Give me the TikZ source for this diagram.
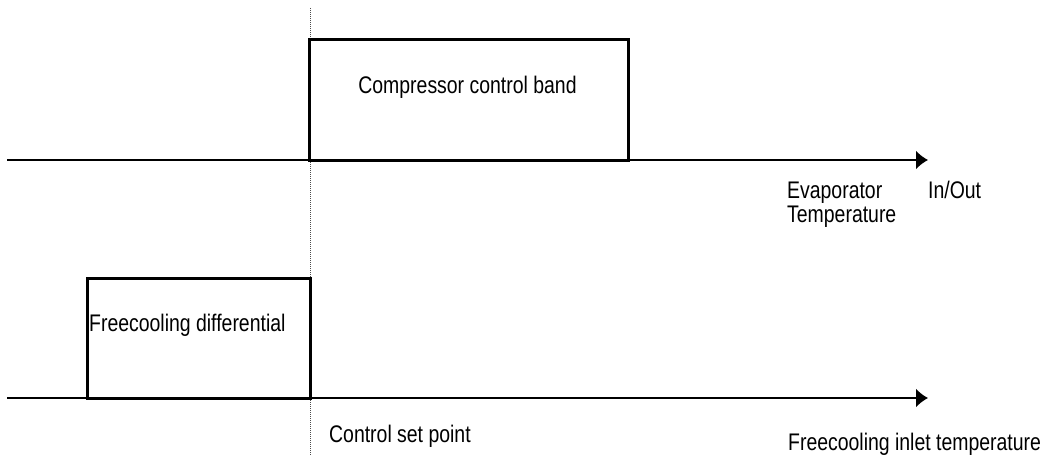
\documentclass[tikz,border=0pt]{standalone}
\usepackage{fontspec}
\setmainfont{Liberation Sans}
\usetikzlibrary{arrows.meta}

\begin{document}
\begin{tikzpicture}[>={Latex[length=12pt,width=19pt]},x=1pt,y=1pt,
        band/.style={draw,line width=3pt,inner sep=0pt,outer sep=0pt,anchor=south west},
        lbl/.style={font=\fontsize{24}{28}\selectfont,inner sep=0pt,xscale=0.81,transform shape}]
        \useasboundingbox(0,0)rectangle(1044,459);
        % set point line
        \coordinate (sptop) at (310,451);
        \coordinate (spbot) at (310,4);
        \draw[gray!60!black,line width=0.9pt,dash pattern=on 1pt off 1pt](sptop)--(spbot);
        % axes
        \coordinate (evs) at (7,299);
        \coordinate (evt) at (928,299);
        \coordinate (fcs) at (7,61);
        \coordinate (fct) at (928,61);
        \draw[->, line width=1.8pt](evs)--(evt);
        \draw[->, line width=1.8pt](fcs)--(fct);
        % bands
        \node[band,minimum width=319,minimum height=120](comp) at (309,299){};
        \node[band,minimum width=223,minimum height=120](fcdiff) at (87,61){};
        % labels
        \node[lbl,anchor=base](complbl) at (467.5,366){Compressor control band};
        \node[lbl,anchor=base west](fclbl) at (89,128){Freecooling differential};
        \node[lbl,anchor=base west](evap) at (787,261){Evaporator};
        \node[lbl,anchor=base west](temp) at (787,237){Temperature};
        \node[lbl,anchor=base west](inout) at (928,261){In/Out};
        \node[lbl,anchor=base west](setpt) at (329,17){Control set point};
        \node[lbl,anchor=base west](fcin) at (788,9){Freecooling inlet temperature};
    \end{tikzpicture}
\end{document}
